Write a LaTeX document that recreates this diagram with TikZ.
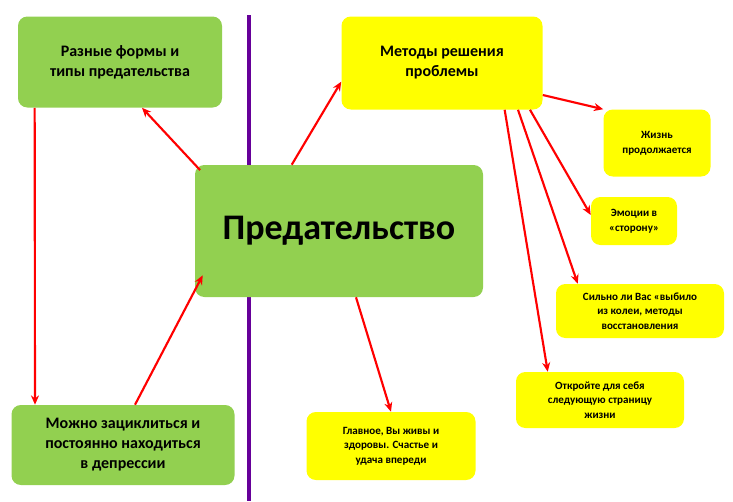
\documentclass[tikz,border=0pt]{standalone}
\usepackage{fontspec}
\setmainfont{Carlito}
\usetikzlibrary{arrows.meta}
\definecolor{leaf}{HTML}{92D050}
\definecolor{sun}{HTML}{FFFF00}
\tikzset{
  box/.style={draw=none, rounded corners=7pt, align=center, font=\bfseries, inner sep=2pt},
  gbox/.style={box, fill=leaf, font=\bfseries\fontsize{12}{15}\selectfont},
  ybox/.style={box, fill=sun, font=\bfseries\fontsize{8.3}{11}\selectfont},
  link/.style={red, line width=1.6pt, -{Stealth[length=7pt,width=6pt]}}
}
\begin{document}
\begin{tikzpicture}[x=0.75pt,y=-0.75pt]
\useasboundingbox (0,0) rectangle (733,501);

% dividing line
\draw[violet!80!blue, line width=3pt] (249,15) -- (249,501);

% green side
\node[gbox, minimum width=204*0.75pt, minimum height=91*0.75pt] (forms) at (120,62) {Разные формы и\\типы предательства};
\node[box, fill=leaf, minimum width=288*0.75pt, minimum height=132*0.75pt,
      font=\bfseries\fontsize{27}{30}\selectfont] (betray) at (339,231) {Предательство};
\node[gbox, minimum width=223*0.75pt, minimum height=80*0.75pt] (loop) at (123,445) {Можно зациклиться и\\постоянно находиться\\в депрессии};

% yellow side
\node[ybox, minimum width=201*0.75pt, minimum height=93*0.75pt, font=\bfseries\fontsize{12}{15}\selectfont] (ways) at (442,63) {Методы решения\\проблемы};
\node[ybox, minimum width=107*0.75pt, minimum height=67*0.75pt] (life) at (657,143) {Жизнь\\продолжается};
\node[ybox, minimum width=86*0.75pt, minimum height=48*0.75pt] (emo) at (634,221) {Эмоции в\\«сторону»};
\node[ybox, minimum width=168*0.75pt, minimum height=54*0.75pt] (hit) at (640,311) {Сильно ли Вас «выбило\\из колеи, методы\\восстановления};
\node[ybox, minimum width=168*0.75pt, minimum height=56*0.75pt] (page) at (600,400) {Откройте для себя\\следующую страницу\\жизни};
\node[ybox, minimum width=169*0.75pt, minimum height=68*0.75pt] (alive) at (391,446) {Главное, Вы живы и\\здоровы. Счастье и\\удача впереди};

% arrows
\draw[link] ([xshift=4pt,yshift=-4pt]betray.north west) -- ([xshift=16.5pt]forms.south);
\draw[link] ([xshift=72.75pt]betray.north west) -- ([yshift=-14pt]ways.west);
\draw[link] ([xshift=-64pt]forms.south) -- ([xshift=-66pt]loop.north);
\draw[link] ([xshift=9pt]loop.north) -- ([xshift=6pt,yshift=16.5pt]betray.south west);
\draw[link] ([xshift=12.75pt]betray.south) -- (alive.north);
\draw[link] ([yshift=-24pt]ways.east) -- (life.north west);
\draw[link] ([xshift=66pt]ways.south) -- ([yshift=4.5pt]emo.west);
\draw[link] ([xshift=57pt]ways.south) -- ([xshift=16.5pt]hit.north west);
\draw[link] ([xshift=47pt]ways.south) -- ([xshift=24pt]page.north west);
\end{tikzpicture}
\end{document}
